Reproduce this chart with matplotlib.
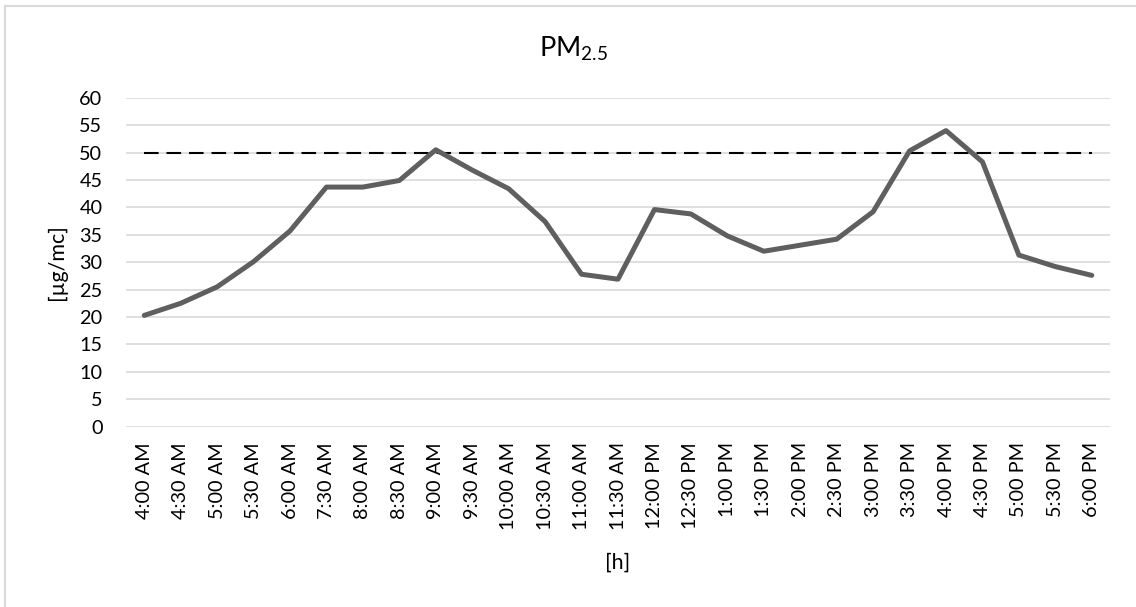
import matplotlib
matplotlib.use("Agg")
from matplotlib import pyplot as plt
from matplotlib.lines import Line2D

plt.rcParams['font.family'] = ['Lato', 'DejaVu Sans']
plt.rcParams['mathtext.fontset'] = 'custom'
plt.rcParams['mathtext.rm'] = 'Lato'
plt.rcParams['mathtext.it'] = 'Lato:italic'

# half-hour readings
hours = ['4:00 AM', '4:30 AM', '5:00 AM', '5:30 AM', '6:00 AM', '7:30 AM', '8:00 AM',
         '8:30 AM', '9:00 AM', '9:30 AM', '10:00 AM', '10:30 AM', '11:00 AM', '11:30 AM',
         '12:00 PM', '12:30 PM', '1:00 PM', '1:30 PM', '2:00 PM', '2:30 PM', '3:00 PM',
         '3:30 PM', '4:00 PM', '4:30 PM', '5:00 PM', '5:30 PM', '6:00 PM']
pm25 = [20.3, 22.5, 25.5, 30.1, 35.7, 43.7, 43.7, 44.9, 50.5, 46.8, 43.4, 37.4, 27.8, 26.9,
        39.6, 38.8, 34.8, 32.0, 33.1, 34.2, 39.2, 50.3, 54.0, 48.3, 31.3, 29.2, 27.6]
limit = [50] * len(hours)

W, H = 1136, 607
fig = plt.figure(figsize=(W / 100, H / 100), dpi=100)
ax = fig.add_axes([126 / W, 1 - 426.7 / H, 984 / W, 329 / H])

x = range(len(hours))
ax.plot(x, pm25, color='#5f5f5f', lw=3.6, solid_joinstyle='round', solid_capstyle='round', zorder=3)
ax.plot(x, limit, color='black', lw=1.5, dashes=(7, 3.8), zorder=2)

ax.set_xlim(-0.5, len(hours) - 0.5)
ax.set_ylim(0, 60)
ax.set_yticks(range(0, 61, 5))
ax.set_xticks(list(x))
ax.set_xticklabels(hours, rotation=90)
ax.tick_params(length=0, labelsize=14.3, colors='#000000')
ax.tick_params(axis='y', pad=17)
ax.tick_params(axis='x', pad=11)
ax.grid(axis='y', color='#d9d9d9', lw=1.2)
ax.set_axisbelow(True)
for s in ax.spines.values():
    s.set_visible(False)

fig.text(573 / W, 1 - 57 / H, r'PM$_{\mathrm{2.5}}$', ha='center', va='baseline', fontsize=19.5)
fig.text(57 / W, 1 - 262.5 / H, '[µg/mc]', rotation=90, ha='center', va='center', fontsize=15.5)
fig.text(618 / W, 1 - 563 / H, '[h]', ha='center', va='center', fontsize=15.5)

# chart frame
fig.add_artist(Line2D([5 / W, 1], [1 - 6 / H, 1 - 6 / H], color='#d9d9d9', lw=1.5))
fig.add_artist(Line2D([5 / W, 5 / W], [0, 1 - 6 / H], color='#d9d9d9', lw=1.5))

fig.savefig('out.png', dpi=100)
